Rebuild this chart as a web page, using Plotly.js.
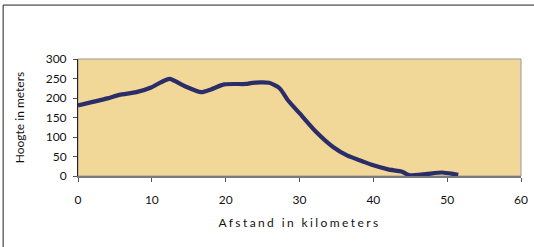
<!DOCTYPE html>
<html><head><meta charset="utf-8">
<script src="https://cdn.plot.ly/plotly-3.0.1.min.js"></script>
<style>
html,body{margin:0;padding:0;background:#fff;}
#chart{width:534px;height:247px;}
.xtitle{letter-spacing:2.4px;}
</style></head>
<body><div id="chart"></div>
<script>
const afstandKm = [0, 2, 4, 5.6, 7.9, 9.9, 11.2, 12.4, 14.5, 16.7, 18, 19.8, 22.8, 23.6, 25.9, 27.3, 28.4, 30, 32.2, 34.5, 36.5, 38.5, 39.9, 42, 43.9, 44.6, 45, 47.1, 49.3, 50.9, 51.5];
const hoogteM =   [181, 190, 199, 208, 215, 227, 240, 249, 230, 215, 222, 235, 236, 239, 239, 225, 195, 161, 114, 75, 52, 38, 28, 17, 11, 4, 2, 5, 9, 5, 3];
const xTicks = [0, 10, 20, 30, 40, 50, 60];
const yTicks = [0, 50, 100, 150, 200, 250, 300];

const font = {family: 'Lato, "Open Sans", sans-serif', size: 12, color: '#111'};

Plotly.newPlot('chart', [{
  x: afstandKm, y: hoogteM, type: 'scatter', mode: 'lines',
  line: {color: '#2B2D68', width: 4.2, shape: 'spline', smoothing: 0.6},
  hoverinfo: 'none'
}], {
  width: 534, height: 247,
  margin: {l: 78, r: 13, t: 59, b: 71},
  paper_bgcolor: '#ffffff', plot_bgcolor: '#F1D899',
  font: font, showlegend: false,
  xaxis: {range: [0, 60], tickvals: xTicks, ticktext: xTicks.map(String),
    showgrid: false, zeroline: false, showline: true, linecolor: '#7a7a7a', linewidth: 2,
    ticks: 'outside', ticklen: 4, tickcolor: '#555', tickwidth: 1,
    tickfont: font, fixedrange: true, ticklabelstandoff: 8,
    title: {text: 'Afstand in kilometers', font: font, standoff: 12}},
  yaxis: {range: [0, 300], tickvals: yTicks, ticktext: yTicks.map(String),
    showgrid: false, zeroline: false, showline: true, linecolor: '#222', linewidth: 1,
    ticks: 'outside', ticklen: 4, tickcolor: '#555', tickwidth: 1,
    tickfont: font, fixedrange: true, ticklabelstandoff: 4,
    title: {text: 'Hoogte in meters', font: font, standoff: 18}},
  shapes: [
    {type: 'rect', xref: 'paper', yref: 'paper', x0: 0, x1: 1, y0: 0, y1: 1,
     line: {color: '#9a9a9a', width: 1}, layer: 'below'},
    {type: 'rect', xref: 'paper', yref: 'paper', x0: -0.169, x1: 1.2, y0: -1, y1: 1.461,
     line: {color: '#222', width: 1}, fillcolor: 'rgba(0,0,0,0)'}
  ]
}, {displayModeBar: false, staticPlot: true});
</script></body></html>
